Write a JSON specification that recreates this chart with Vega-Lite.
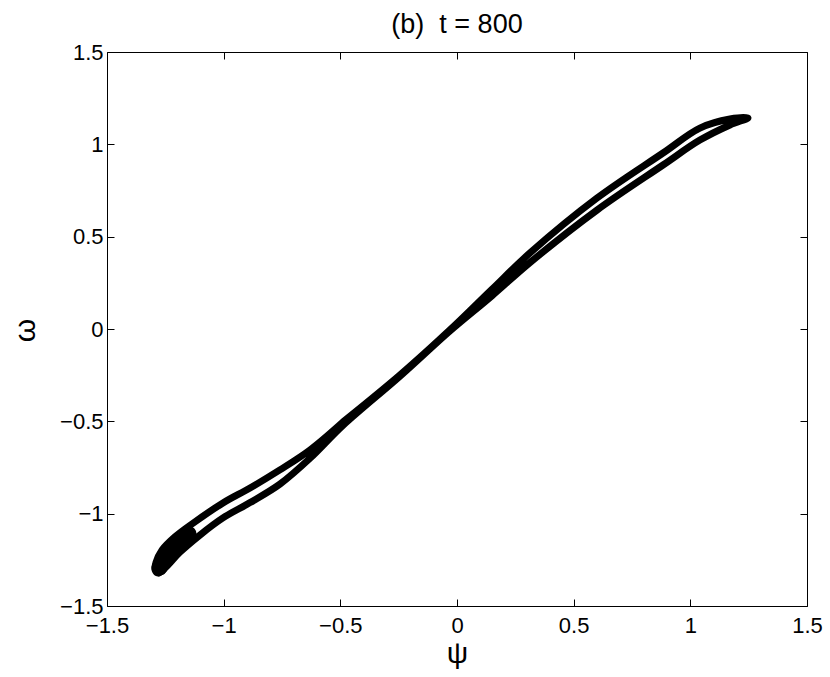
{
  "$schema": "https://vega.github.io/schema/vega-lite/v6.json",
  "width": 700,
  "height": 554,
  "autosize": "none",
  "padding": {"left": 107, "top": 52, "right": 23, "bottom": 71},
  "background": "white",
  "config": {
    "view": {"stroke": "black", "strokeWidth": 1},
    "font": "Liberation Sans",
    "axis": {"domain": false, "grid": false, "labelFlush": false, "labelOverlap": false, "offset": -7, "tickColor": "black", "tickWidth": 1, "tickSize": 7, "labelColor": "black", "labelFont": "Liberation Sans", "labelFontSize": 22, "titleColor": "black", "titleFont": "Liberation Sans", "titleFontWeight": "normal"}
  },
  "title": {"text": "(b)\u00a0 t = 800", "fontSize": 27, "fontWeight": "normal", "font": "Liberation Sans", "color": "black", "offset": 2},
  "datasets": {
    "loop": [
      {"s": "loop", "o": 1, "psi": -0.489, "omega": -0.504},
      {"s": "loop", "o": 2, "psi": -0.244, "omega": -0.249},
      {"s": "loop", "o": 3, "psi": -0.030, "omega": -0.005},
      {"s": "loop", "o": 4, "psi": 0.150, "omega": 0.215},
      {"s": "loop", "o": 5, "psi": 0.313, "omega": 0.412},
      {"s": "loop", "o": 6, "psi": 0.600, "omega": 0.709},
      {"s": "loop", "o": 7, "psi": 0.883, "omega": 0.953},
      {"s": "loop", "o": 8, "psi": 1.041, "omega": 1.088},
      {"s": "loop", "o": 9, "psi": 1.170, "omega": 1.137},
      {"s": "loop", "o": 10, "psi": 1.247, "omega": 1.143},
      {"s": "loop", "o": 11, "psi": 1.170, "omega": 1.105},
      {"s": "loop", "o": 12, "psi": 1.041, "omega": 1.023},
      {"s": "loop", "o": 13, "psi": 0.883, "omega": 0.888},
      {"s": "loop", "o": 14, "psi": 0.600, "omega": 0.644},
      {"s": "loop", "o": 15, "psi": 0.313, "omega": 0.360},
      {"s": "loop", "o": 16, "psi": 0.150, "omega": 0.180},
      {"s": "loop", "o": 17, "psi": -0.030, "omega": -0.010},
      {"s": "loop", "o": 18, "psi": -0.244, "omega": -0.255},
      {"s": "loop", "o": 19, "psi": -0.489, "omega": -0.522},
      {"s": "loop", "o": 20, "psi": -0.630, "omega": -0.700},
      {"s": "loop", "o": 21, "psi": -0.759, "omega": -0.840},
      {"s": "loop", "o": 22, "psi": -0.887, "omega": -0.940},
      {"s": "loop", "o": 23, "psi": -1.003, "omega": -1.023},
      {"s": "loop", "o": 24, "psi": -1.101, "omega": -1.115},
      {"s": "loop", "o": 25, "psi": -1.187, "omega": -1.208},
      {"s": "loop", "o": 26, "psi": -1.251, "omega": -1.294},
      {"s": "loop", "o": 27, "psi": -1.281, "omega": -1.322},
      {"s": "loop", "o": 28, "psi": -1.294, "omega": -1.305},
      {"s": "loop", "o": 29, "psi": -1.290, "omega": -1.265},
      {"s": "loop", "o": 30, "psi": -1.264, "omega": -1.197},
      {"s": "loop", "o": 31, "psi": -1.209, "omega": -1.126},
      {"s": "loop", "o": 32, "psi": -1.136, "omega": -1.056},
      {"s": "loop", "o": 33, "psi": -1.003, "omega": -0.942},
      {"s": "loop", "o": 34, "psi": -0.887, "omega": -0.861},
      {"s": "loop", "o": 35, "psi": -0.759, "omega": -0.763},
      {"s": "loop", "o": 36, "psi": -0.630, "omega": -0.655},
      {"s": "loop", "o": 37, "psi": -0.489, "omega": -0.504}
    ],
    "blob": [
      {"s": "blob", "o": 1, "psi": -1.150, "omega": -1.110},
      {"s": "blob", "o": 2, "psi": -1.205, "omega": -1.175},
      {"s": "blob", "o": 3, "psi": -1.250, "omega": -1.240},
      {"s": "blob", "o": 4, "psi": -1.275, "omega": -1.292}
    ]
  },
  "layer": [
    {
      "data": {"name": "loop"},
      "mark": {"type": "line", "color": "black", "strokeWidth": 7, "strokeCap": "round", "strokeJoin": "round", "interpolate": "catmull-rom"},
      "encoding": {
        "x": {"field": "psi", "type": "quantitative", "scale": {"domain": [-1.5, 1.5], "nice": false, "zero": false},
              "axis": {"orient": "bottom", "values": [-1.5, -1, -0.5, 0, 0.5, 1, 1.5], "format": "~g", "labelPadding": 9, "title": "ψ", "titleFontSize": 30, "titleX": 350, "titleY": 63, "titleBaseline": "alphabetic"}},
        "y": {"field": "omega", "type": "quantitative", "scale": {"domain": [-1.5, 1.5], "nice": false, "zero": false},
              "axis": {"orient": "left", "values": [-1.5, -1, -0.5, 0, 0.5, 1, 1.5], "format": "~g", "labelPadding": 4, "title": "ω", "titleFontSize": 30, "titleAngle": -90, "titleX": -80, "titleY": 278, "titleBaseline": "alphabetic", "titleAlign": "center"}},
        "detail": {"field": "s"},
        "order": {"field": "o", "type": "quantitative"}
      }
    },
    {
      "data": {"name": "blob"},
      "mark": {"type": "line", "color": "black", "strokeWidth": 16, "strokeCap": "round", "strokeJoin": "round", "interpolate": "catmull-rom"},
      "encoding": {
        "x": {"field": "psi", "type": "quantitative",
              "axis": {"orient": "top", "values": [-1.5, -1, -0.5, 0, 0.5, 1, 1.5], "labels": false, "title": null}},
        "y": {"field": "omega", "type": "quantitative",
              "axis": {"orient": "right", "values": [-1.5, -1, -0.5, 0, 0.5, 1, 1.5], "labels": false, "title": null}},
        "detail": {"field": "s"},
        "order": {"field": "o", "type": "quantitative"}
      }
    }
  ],
  "resolve": {"axis": {"x": "independent", "y": "independent"}}
}
